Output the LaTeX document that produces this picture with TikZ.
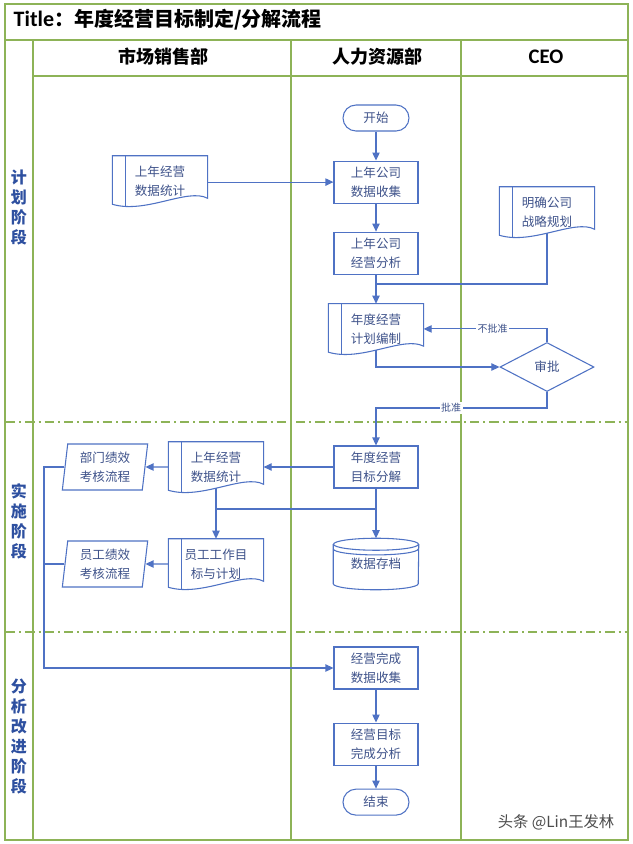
\documentclass[tikz,border=0pt]{standalone}
\usepackage{fontspec}
\setmainfont{Noto Sans CJK SC}
\newfontfamily\latinfont{Carlito}
\usetikzlibrary{positioning}
\usetikzlibrary{shapes.geometric}
\usetikzlibrary{arrows.meta}
\definecolor{lanegreen}{RGB}{141,179,87}
\definecolor{flowblue}{RGB}{79,114,196}
\definecolor{flowtext}{RGB}{62,82,138}
\definecolor{phaseblue}{RGB}{46,80,160}

\begin{document}
\begin{tikzpicture}[
    x=0.75pt, y=-0.75pt,
    node distance=1cm,
    lane/.style={draw=lanegreen, line width=0.8pt},
    phaseline/.style={draw=lanegreen, line width=0.8pt, dash pattern=on 7pt off 3pt on 1.5pt off 3pt},
    header/.style={font=\fontsize{13.5}{16}\selectfont\bfseries},
    phase/.style={font=\fontsize{12}{15}\selectfont\bfseries, text=phaseblue, align=center},
    base/.style={font=\fontsize{9.4}{14.2}\selectfont, text=flowtext, align=center, inner sep=0pt},
    process/.style={base, rectangle, draw=flowblue, line width=0.8pt, minimum width=63pt, minimum height=31.5pt},
    term/.style={base, rectangle, rounded corners=9.75pt, draw=flowblue, line width=0.8pt, minimum width=49.5pt, minimum height=19.5pt},
    decision/.style={base, diamond, draw=flowblue, line width=0.8pt, minimum width=70.5pt, minimum height=36.75pt},
    para/.style={base, trapezium, trapezium left angle=80, trapezium right angle=100, trapezium stretches body, draw=flowblue, line width=0.8pt, minimum width=64pt, minimum height=34.5pt},
    doc/.style={base, rectangle, minimum width=71pt, minimum height=37.5pt, append after command={\pgfextra{
        \draw[flowblue, line width=0.8pt] (\tikzlastnode.north west) -- (\tikzlastnode.north east) -- ([yshift=6pt]\tikzlastnode.south east) .. controls ([xshift=-15pt, yshift=14pt]\tikzlastnode.south east) and ([xshift=25pt, yshift=-6pt]\tikzlastnode.south west) .. ([yshift=1.5pt]\tikzlastnode.south west) -- cycle;
        \draw[flowblue, line width=0.8pt] ([xshift=9.5pt]\tikzlastnode.north west) -- ([xshift=9.5pt]\tikzlastnode.south west);}}},
    store/.style={base, rectangle, minimum width=63.75pt, minimum height=38.25pt, append after command={\pgfextra{
        \draw[flowblue, line width=0.8pt] ([yshift=-4.5pt]\tikzlastnode.north) ellipse [x radius=31.875pt, y radius=4.5pt];
        \draw[flowblue, line width=0.8pt] ([yshift=-8pt]\tikzlastnode.north west) arc [start angle=180, end angle=360, x radius=31.875pt, y radius=4.5pt];
        \draw[flowblue, line width=0.8pt] ([yshift=-4.5pt]\tikzlastnode.north west) -- ([yshift=4.5pt]\tikzlastnode.south west) arc [start angle=180, end angle=360, x radius=31.875pt, y radius=4.5pt] -- ([yshift=-4.5pt]\tikzlastnode.north east);}}},
    line/.style={draw=flowblue, line width=0.8pt},
    arr/.style={line, -{Triangle[length=6pt, width=5.5pt]}},
    tag/.style={font=\fontsize{7.5}{9}\selectfont, text=flowtext, fill=white, inner sep=1pt}
    ]
    \useasboundingbox (0,0) rectangle (633,844);
    \fill[white] (0,0) rectangle (633,844);
    \draw[lane, line width=1.1pt] (5,4) rectangle (628,840);
    \draw[lane] (5,40) -- (628,40);
    \draw[lane] (33,76) -- (628,76);
    \draw[lane] (33,40) -- (33,840);
    \draw[lane] (291,40) -- (291,840);
    \draw[lane] (461,40) -- (461,840);
    \draw[phaseline] (6,422) -- (627,422);
    \draw[phaseline] (6,632) -- (627,632);

    \node (title) [anchor=west, font=\fontsize{15}{17}\selectfont\bfseries] at (9,20) {{\latinfont\fontsize{16.5}{17}\selectfont Title}：年度经营目标制定/分解流程};
    \node (sales) [header] at (163,57) {市场销售部};
    \node (hr) [header] at (377,57) {人力资源部};
    \node (ceo) [header, font=\latinfont\fontsize{15.5}{16}\selectfont\bfseries] at (546,57) {CEO};
    \node (plan phase) [phase] at (19,207) {计\\划\\阶\\段};
    \node (do phase) [phase] at (19,521) {实\\施\\阶\\段};
    \node (check phase) [phase] at (19,737) {分\\析\\改\\进\\阶\\段};

    \node (start) [term] at (376,118) {开始};
    \node (collect) [process, below=21.75pt of start] {上年公司\\数据收集};
    \node (analyze) [process, below=21pt of collect] {上年公司\\经营分析};
    \node (plan) [doc, below=21.75pt of analyze] {年度经营\\计划编制};
    \node (lastdata) [doc] at (160,181) {上年经营\\数据统计};
    \node (strategy) [doc] at (547,212) {明确公司\\战略规划};
    \node (review) [decision] at (547,367) {审批};
    \node (split) [process] at (376,467) {年度经营\\目标分解};
    \node (midstat) [doc] at (216,467) {上年经营\\数据统计};
    \node (deptperf) [para] at (105,467) {部门绩效\\考核流程};
    \node (empplan) [doc] at (216,564) {员工工作目\\标与计划};
    \node (empperf) [para] at (105,564) {员工绩效\\考核流程};
    \node (archive) [store] at (376,564) {数据存档};
    \node (finish) [process] at (376,668) {经营完成\\数据收集};
    \node (result) [process, below=24.75pt of finish] {经营目标\\完成分析};
    \node (end) [term, below=17.25pt of result] {结束};
    \node (mark) [font=\fontsize{11.5}{13}\selectfont, text=black!70] at (556,822) {头条 @Lin王发林};

    \coordinate (merge) at (376,284);
    \coordinate (okturn) at (547,408);
    \coordinate (fork) at (376,509);
    \coordinate (loop) at (44,668);

    \draw[arr] (start) -- (collect);
    \draw[arr] (lastdata.east |- collect) -- (collect.west);
    \draw[arr] (collect) -- (analyze);
    \draw[arr] (analyze) -- (plan);
    \draw[line] ([yshift=3pt]strategy.south) |- (merge);
    \draw[arr] ([yshift=3pt]plan.south) |- (review);
    \draw[arr] (review.north) |- (plan.east) node[tag, pos=0.72] {不批准};
    \draw[arr] (review.south) -- (okturn) -| (split.north) node[tag, pos=0.28] {批准};
    \draw[arr] (split.west) -- (midstat.east);
    \draw[arr] (midstat.west) -- (deptperf.east);
    \draw[arr] (split) -- (archive);
    \draw[line] (fork) -- (fork -| midstat.south);
    \draw[arr] ([yshift=3pt]midstat.south) -- (empplan.north);
    \draw[arr] (empplan.west) -- (empperf.east);
    \draw[arr] (deptperf.west) -| (loop) -- (finish.west);
    \draw[line] (empperf.west) -- (empperf.west -| loop);
    \draw[arr] (finish) -- (result);
    \draw[arr] (result) -- (end);
\end{tikzpicture}
\end{document}
